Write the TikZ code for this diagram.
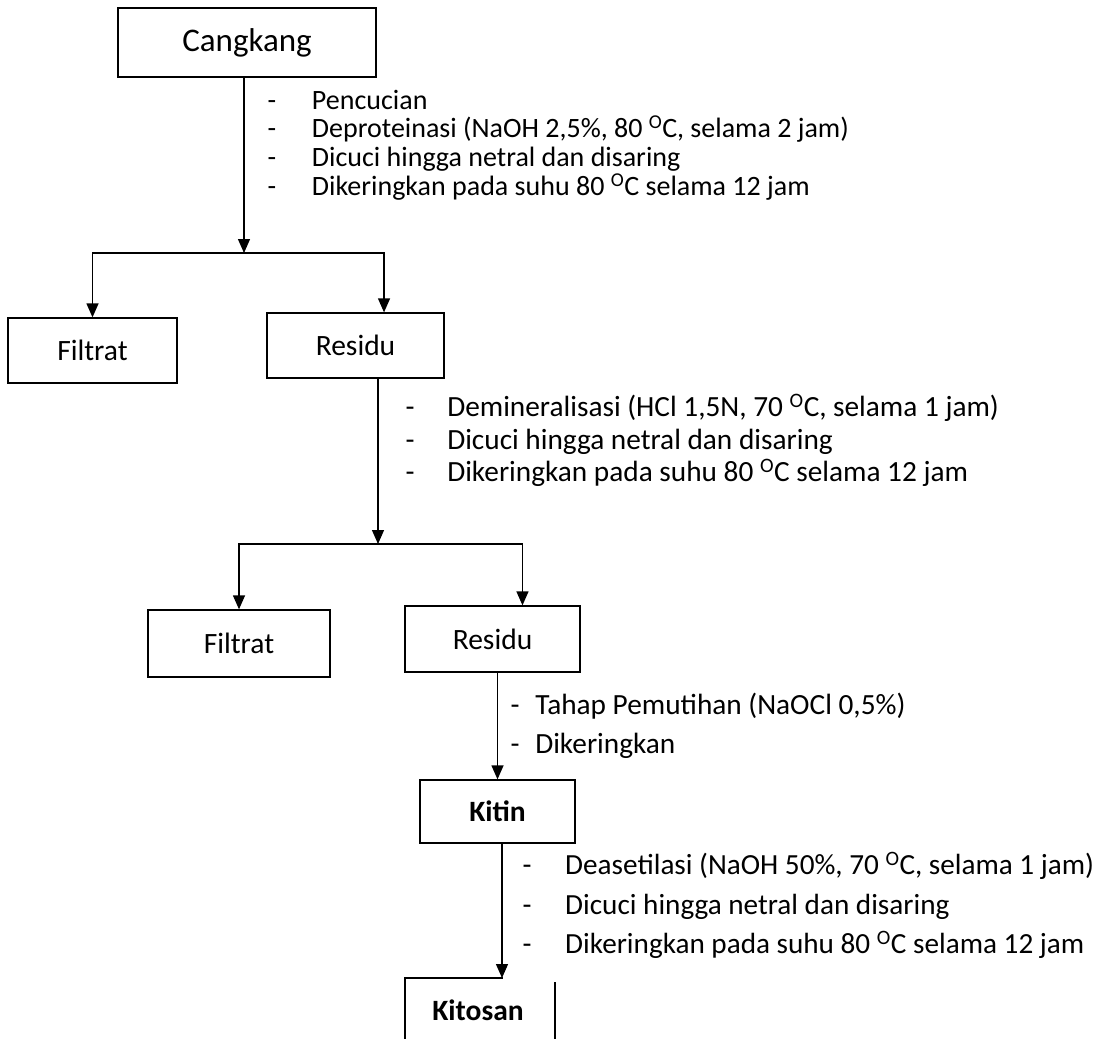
\documentclass[tikz,border=0pt]{standalone}
\usepackage{fontspec}
\setmainfont{Carlito}
\usetikzlibrary{positioning,arrows.meta,calc}
\newcommand{\degO}{\textsuperscript{O}}
\newcommand{\dsh}[1][39pt]{\makebox[#1][l]{-}}

\begin{document}
\begin{tikzpicture}[x=1pt, y=-1pt, >={Triangle[length=14pt,width=12pt]},
    font=\fontsize{29.5}{31}\selectfont, line width=1.3pt,
    box/.style={draw, line width=1.3pt, inner sep=0pt, align=center},
    steps/.style={anchor=west, inner sep=0pt, align=left}]
  \useasboundingbox (0,0) rectangle (1094,1038);

  % bahan awal
  \node[box, minimum width=258pt, minimum height=69pt, font=\fontsize{33}{34}\selectfont] (cangkang) at (247,42.5) {Cangkang};
  \node[steps, font=\fontsize{28}{28.6}\selectfont] (deprot) at (267,145)
    {\dsh[38pt] Pencucian\\
     \dsh[38pt] Deproteinasi (NaOH 2,5\%, 80 \degO C, selama 2 jam)\\
     \dsh[38pt] Dicuci hingga netral dan disaring\\
     \dsh[38pt] Dikeringkan pada suhu 80 \degO C selama 12 jam};
  \coordinate (split1) at (244,253);

  \node[box, minimum width=169pt, minimum height=65pt] (filtrat1) at (92.5,350.5) {Filtrat};
  \node[box, minimum width=177pt, minimum height=65pt] (residu1) at (355.5,345.5) {Residu};

  % demineralisasi
  \node[steps, font=\fontsize{29.3}{32.5}\selectfont] (demin) at (405,440.5)
    {\dsh[35pt] Demineralisasi (HCl 1,5N, 70 \degO C, selama 1 jam)\\
     \dsh[35pt] Dicuci hingga netral dan disaring\\
     \dsh[35pt] Dikeringkan pada suhu 80 \degO C selama 12 jam};
  \coordinate (split2) at (378,544);

  \node[box, minimum width=182pt, minimum height=67pt] (filtrat2) at (239,643.5) {Filtrat};
  \node[box, minimum width=175pt, minimum height=66pt] (residu2) at (492.5,639) {Residu};

  % pemutihan
  \node[steps, font=\fontsize{29.3}{39}\selectfont] (putih) at (510,725.5)
    {\dsh[18pt] Tahap Pemutihan (NaOCl 0,5\%)\\
     \dsh[18pt] Dikeringkan};
  \node[box, minimum width=155pt, minimum height=63pt, font=\fontsize{29.5}{31}\bfseries] (kitin) at (497.5,811.5) {Kitin};

  % deasetilasi
  \node[steps, font=\fontsize{29.2}{39.5}\selectfont] (deaset) at (522,905.5)
    {\dsh[36pt] Deasetilasi (NaOH 50\%, 70 \degO C, selama 1 jam)\\
     \dsh[36pt] Dicuci hingga netral dan disaring\\
     \dsh[36pt] Dikeringkan pada suhu 80 \degO C selama 12 jam};
  \coordinate (kitosantop) at (502,978);
  \node[inner sep=0pt, font=\fontsize{29.5}{31}\bfseries] (kitosan) at (478,1010) {Kitosan};
  \draw (405,1040) |- (503,978);
  \draw (555,982) -- (555,1040);

  % panah
  \draw[->] (split1 |- cangkang.south) -- (split1);
  \draw[->] (split1) -| (filtrat1.north);
  \draw[->] (split1) -| ($(residu1.north west)!0.66!(residu1.north east)$);
  \draw[->] (residu1.south -| split2) -- (split2);
  \draw[->] (split2) -| (filtrat2.north);
  \draw[->] (split2) -| ($(residu2.north west)!0.67!(residu2.north east)$);
  \draw[->] (residu2.south -| kitin.north) -- (kitin.north);
  \draw[->] (kitin.south -| kitosantop) -- (kitosantop);
\end{tikzpicture}
\end{document}
